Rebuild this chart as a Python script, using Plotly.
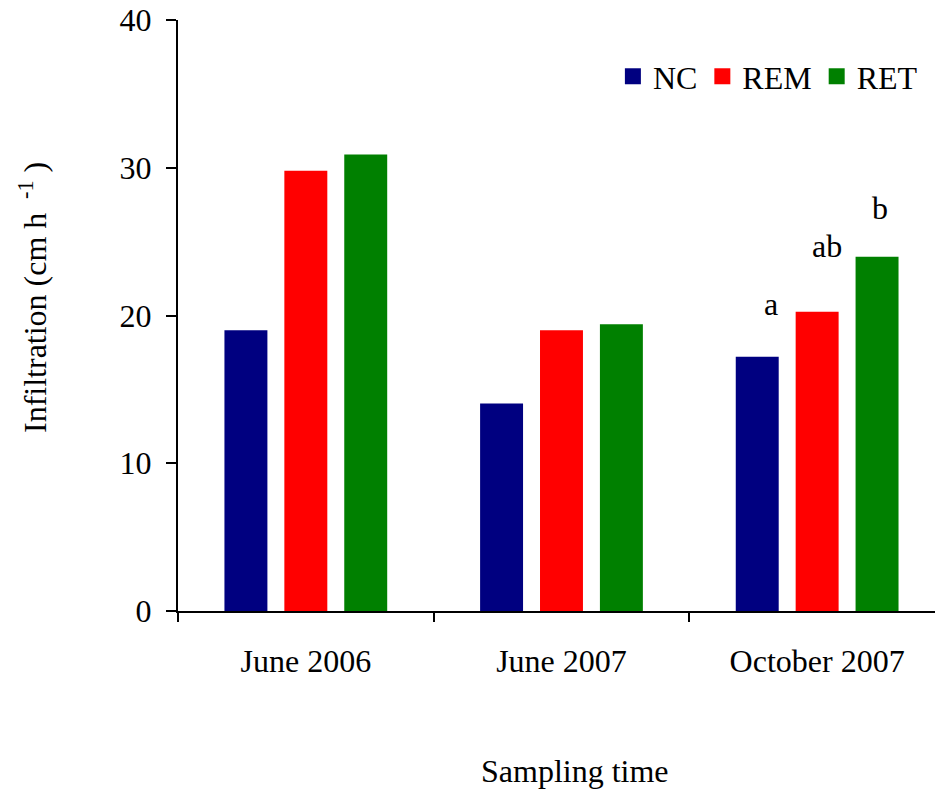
import plotly.graph_objects as go

# Infiltration rate by sampling time and treatment
sampling_times = ["June 2006", "June 2007", "October 2007"]
treatments = ["NC", "REM", "RET"]
nc_values = [19.0, 14.05, 17.2]
rem_values = [29.8, 19.0, 20.25]
ret_values = [30.9, 19.4, 23.97]
colors = ["#000080", "#FF0000", "#008000"]

# Significance letters for the October 2007 sampling
letter_time = "October 2007"
letters = ["a", "ab", "b"]
letter_heights = [20.0, 23.9, 26.45]
letter_shifts = [-46, 10, 63]

FONT = "Liberation Serif, Times New Roman, serif"
SIZE = 32

W, H = 935, 791
L, R, T, B = 178, 0, 20, 180
pw, ph = W - L - R, H - T - B

fig = go.Figure()
for name, vals, col in zip(treatments, [nc_values, rem_values, ret_values], colors):
    fig.add_trace(go.Bar(
        x=sampling_times, y=vals, name=name,
        marker=dict(color=col, line=dict(width=0)),
        showlegend=False,
    ))
    # square legend swatch
    fig.add_trace(go.Scatter(
        x=[None], y=[None], mode="markers", name=name,
        marker=dict(symbol="square", size=16, color=col),
    ))

for txt, h, dx in zip(letters, letter_heights, letter_shifts):
    fig.add_annotation(
        x=letter_time, y=h, text=txt, showarrow=False,
        xshift=dx, yanchor="bottom", yshift=-8,
        font=dict(family=FONT, size=SIZE, color="black"),
    )

# axis titles, placed in pixels
fig.add_annotation(
    xref="paper", yref="paper",
    x=(575 - L) / pw, y=(H - B - 771) / ph,
    xanchor="center", yanchor="middle",
    text="Sampling time", showarrow=False,
    font=dict(family=FONT, size=SIZE, color="black"),
)
fig.add_annotation(
    xref="paper", yref="paper",
    x=(33 - L) / pw, y=(H - B - 298) / ph,
    xanchor="center", yanchor="middle",
    text="Infiltration (cm h <sup> -1</sup> )", textangle=-90,
    showarrow=False,
    font=dict(family=FONT, size=SIZE, color="black"),
)

fig.update_layout(
    width=W, height=H,
    margin=dict(l=L, r=R, t=T, b=B, pad=0),
    paper_bgcolor="white", plot_bgcolor="white",
    barmode="group", bargap=0.297, bargroupgap=0.283,
    font=dict(family=FONT, size=SIZE, color="black"),
    legend=dict(
        orientation="h", x=0.984, xanchor="right", y=0.951, yanchor="top",
        font=dict(family=FONT, size=SIZE, color="black"),
        bgcolor="rgba(0,0,0,0)", itemwidth=30,
    ),
    xaxis=dict(
        type="category", range=[-0.5, 2.461],
        showline=True, linecolor="black", linewidth=2,
        ticks="outside", tickson="boundaries", ticklen=9, tickwidth=2,
        tickcolor="black", showgrid=False, zeroline=False,
        tickfont=dict(family=FONT, size=SIZE), ticklabelstandoff=21,
    ),
    yaxis=dict(
        range=[0, 40], tickvals=[0, 10, 20, 30, 40],
        showline=True, linecolor="black", linewidth=2,
        ticks="outside", ticklen=10, tickwidth=2, tickcolor="black",
        showgrid=False, zeroline=False,
        tickfont=dict(family=FONT, size=SIZE), ticklabelstandoff=8,
    ),
)

fig.write_html("out.html")
